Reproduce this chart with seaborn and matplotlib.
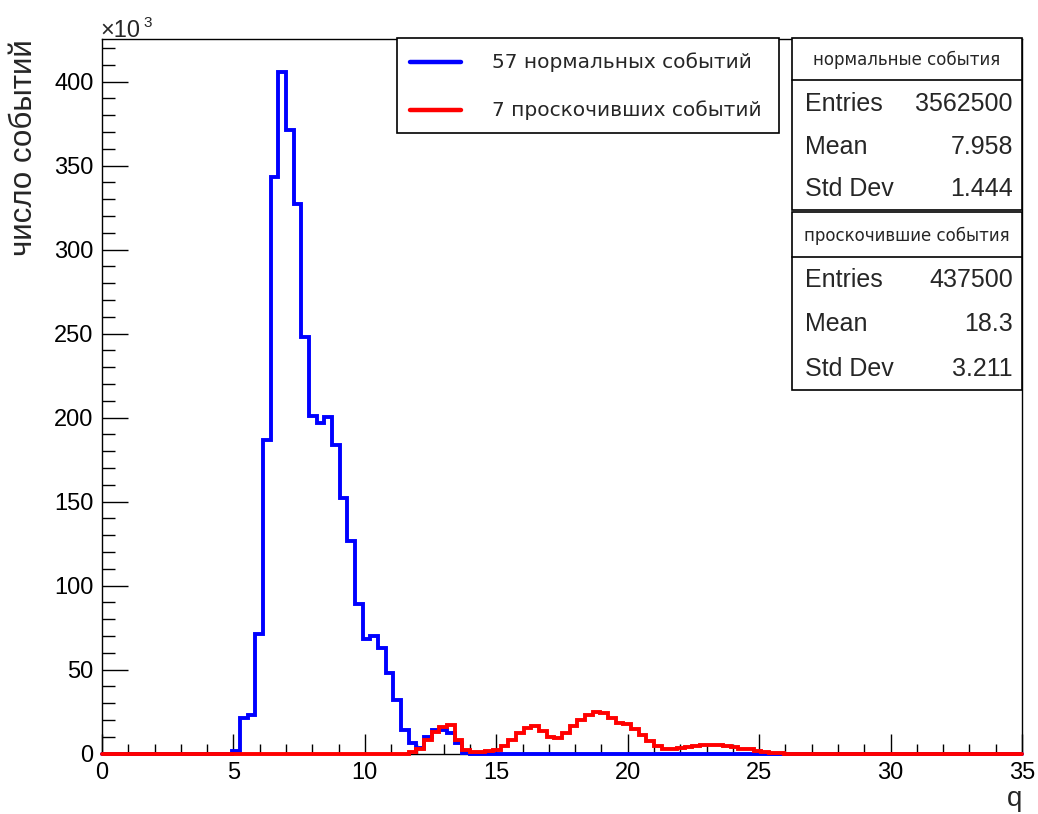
import numpy as np
import pandas as pd
import matplotlib
matplotlib.use("Agg")
import matplotlib.pyplot as plt
import seaborn as sns
from matplotlib.patches import Rectangle
from matplotlib.lines import Line2D
from matplotlib.ticker import MultipleLocator

# ---------------- data (counts in thousands) ----------------
q_min, q_max, n_bins = 0.0, 35.0, 120

normal_first_bin = 17
normal_counts = [1.5, 21.5, 23, 71, 187, 343, 405.5, 371, 327, 248,
                 201, 197, 200.5, 184, 152, 126.5, 89, 68, 70, 63,
                 48, 32, 14, 6.4, 3.4, 10, 14, 14, 12.5, 6.5, 0.5]

jump_first_bin = 40
jump_counts = [1, 3, 8, 13, 16, 17, 8, 2.4, 0.8, 0.8,
               1.5, 2, 4.4, 8.3, 12.3, 15.3, 16.3, 13.3, 10, 9.4,
               12.3, 16.3, 20, 23, 25, 24, 21, 18.5, 17.7, 14.7,
               11.3, 7.3, 4.8, 3, 2.8, 3.4, 3.8, 4.5, 5, 5,
               5, 4.5, 4, 3, 2.5, 1.5, 1, 0.5, 0.3]

legend_labels = ["57 нормальных событий", "7 проскочивших событий"]
stat_titles = ["нормальные события", "проскочившие события"]
stat_names = ["Entries", "Mean", "Std Dev"]
stat_values = [["3562500", "7.958", "1.444"], ["437500", "18.3", "3.211"]]
x_ticks = [0, 5, 10, 15, 20, 25, 30, 35]
y_ticks = [0, 50, 100, 150, 200, 250, 300, 350, 400]

edges = np.linspace(q_min, q_max, n_bins + 1)
centers = 0.5 * (edges[:-1] + edges[1:])
normal = np.zeros(n_bins)
normal[normal_first_bin:normal_first_bin + len(normal_counts)] = normal_counts
jump = np.zeros(n_bins)
jump[jump_first_bin:jump_first_bin + len(jump_counts)] = jump_counts
df_normal = pd.DataFrame({"q": centers, "w": normal})
df_jump = pd.DataFrame({"q": centers, "w": jump})

# ---------------- figure ----------------
sns.set_style("white")
plt.rcParams["font.family"] = ["Liberation Sans", "DejaVu Sans"]

W, H = 1038, 814
fig = plt.figure(figsize=(W / 100, H / 100), dpi=100)

def fx(px):
    return px / W

def fy(py):
    return 1 - py / H

ax_left, ax_right, ax_top, ax_bot = 102, 1022, 39.3, 753.7
ax = fig.add_axes([fx(ax_left), fy(ax_bot), (ax_right - ax_left) / W, (ax_bot - ax_top) / H])

lw = 2.8
sns.histplot(data=df_normal, x="q", weights="w", bins=n_bins, binrange=(q_min, q_max),
             element="step", fill=False, color="#0000ff", linewidth=lw, ax=ax)
sns.histplot(data=df_jump, x="q", weights="w", bins=n_bins, binrange=(q_min, q_max),
             element="step", fill=False, color="#ff0000", linewidth=lw, ax=ax)
for i, ln in enumerate(ax.lines):
    ln.set_clip_on(False)
    ln.set_solid_joinstyle("miter")
    ln.set_zorder(3 + i)

ax.set_xlim(q_min, q_max)
ax.set_ylim(0, 425.2)
ax.set_xticks(x_ticks)
ax.set_yticks(y_ticks)
ax.xaxis.set_minor_locator(MultipleLocator(1))
ax.yaxis.set_minor_locator(MultipleLocator(10))
ax.tick_params(axis="both", which="both", direction="in", width=1.0, color="black",
               bottom=True, left=True, top=False, right=False,
               labelsize=17, labelcolor="black")
ax.tick_params(axis="x", which="major", length=14.4, pad=6)
ax.tick_params(axis="x", which="minor", length=7.2)
ax.tick_params(axis="y", which="major", length=19, pad=6)
ax.tick_params(axis="y", which="minor", length=9.2)
for s in ax.spines.values():
    s.set_visible(True)
    s.set_color("black")
    s.set_linewidth(1.0)
    s.set_zorder(2.5)

ax.set_ylabel("число событий", fontsize=22.5, loc="top")
ax.yaxis.set_label_coords(-0.068, 1.0)
ax.set_xlabel("q", fontsize=20, loc="right")
ax.xaxis.set_label_coords(1.0, -0.045)

fig.text(fx(100), fy(37), "×10", fontsize=17, ha="left", va="baseline")
fig.text(fx(143), fy(27), "3", fontsize=11, ha="left", va="baseline")

# ---------------- legend box ----------------
fig.add_artist(Rectangle((fx(397), fy(133)), (779 - 397) / W, (133 - 38) / H,
                         transform=fig.transFigure, fill=True, facecolor="white",
                         edgecolor="black", linewidth=1.2))
for yy, col, lab in [(62, "#0000ff", legend_labels[0]), (110, "#ff0000", legend_labels[1])]:
    fig.add_artist(Line2D([fx(410), fx(461)], [fy(yy), fy(yy)], color=col,
                          linewidth=3.2, transform=fig.transFigure))
    fig.text(fx(492), fy(yy), lab, fontsize=14.5, ha="left", va="center",
             family=["DejaVu Sans"])

# ---------------- stats boxes ----------------
boxes = [(38, 80, 210, 60, [104, 147, 189]), (212, 257, 390, 236, [280, 324, 369])]
for (top, sep, bot, ty, rows), title, vals in zip(boxes, stat_titles, stat_values):
    fig.add_artist(Rectangle((fx(792), fy(bot)), (1022 - 792) / W, (bot - top) / H,
                             transform=fig.transFigure, facecolor="white",
                             edgecolor="black", linewidth=1.2))
    fig.add_artist(Line2D([fx(792), fx(1022)], [fy(sep), fy(sep)], color="black",
                          linewidth=1.2, transform=fig.transFigure))
    fig.text(fx(907), fy(ty), title, fontsize=12, ha="center", va="center",
             family=["DejaVu Sans"])
    for yy, name, v in zip(rows, stat_names, vals):
        fig.text(fx(805), fy(yy), name, fontsize=18, ha="left", va="center")
        fig.text(fx(1013), fy(yy), v, fontsize=18, ha="right", va="center")

fig.savefig("out.png", dpi=100)
